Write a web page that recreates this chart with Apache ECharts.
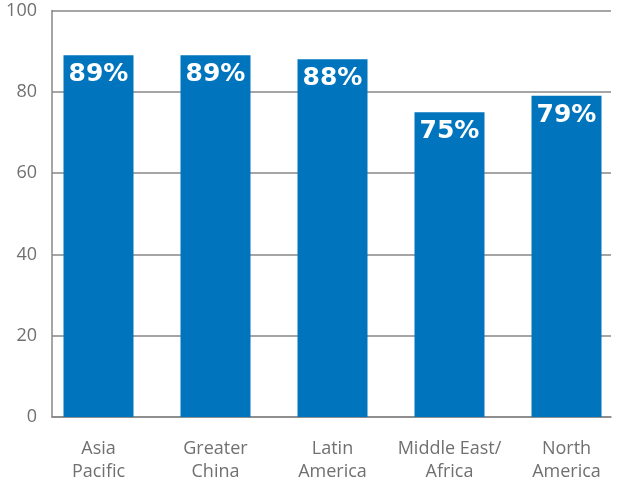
<!DOCTYPE html>
<html>
<head>
<meta charset="utf-8">
<script src="https://cdn.jsdelivr.net/npm/echarts@6/dist/echarts.min.js"></script>
<style>
html,body{margin:0;padding:0;background:#fff;overflow:hidden;}
#chart{width:617px;height:479px;}
</style>
</head>
<body>
<div id="chart"></div>
<script>
var categories = ['Asia\nPacific', 'Greater\nChina', 'Latin\nAmerica', 'Middle East/\nAfrica', 'North\nAmerica'];
var values = [89, 89, 88, 75, 79];
var yTicks = [0, 20, 40, 60, 80, 100];

var chart = echarts.init(document.getElementById('chart'), null, {renderer: 'canvas'});
var gray = '#878787';
var textGray = '#707070';
chart.setOption({
  animation: false,
  backgroundColor: '#fff',
  grid: [
    {left: 52, right: 6, top: 10.5, bottom: 62, outerBoundsMode: 'none', containLabel: false},
    {left: 40, width: 585, top: 10.5, bottom: 62, outerBoundsMode: 'none', containLabel: false}
  ],
  xAxis: [
    {
      gridIndex: 0, type: 'category', data: categories,
      axisLine: {show: true, lineStyle: {color: gray, width: 1.5}},
      axisTick: {show: false}, axisLabel: {show: false}
    },
    {
      gridIndex: 1, type: 'category', data: categories,
      axisLine: {show: false}, axisTick: {show: false},
      axisLabel: {
        show: true, color: textGray, fontSize: 18, lineHeight: 23,
        fontFamily: 'Open Sans', margin: 20, interval: 0
      }
    }
  ],
  yAxis: [
    {
      gridIndex: 0, type: 'value', min: yTicks[0], max: yTicks[yTicks.length - 1], interval: 20,
      axisLine: {show: true, lineStyle: {color: gray, width: 1.5}},
      axisTick: {show: false},
      splitLine: {show: true, lineStyle: {color: gray, width: 1.5}},
      axisLabel: {color: textGray, fontSize: 18, fontFamily: 'Open Sans', margin: 15}
    },
    {
      gridIndex: 1, type: 'value', min: yTicks[0], max: yTicks[yTicks.length - 1],
      show: false, splitLine: {show: false}
    }
  ],
  series: [{
    type: 'bar',
    xAxisIndex: 1, yAxisIndex: 1,
    data: values,
    barWidth: 70,
    itemStyle: {color: '#0075be'},
    label: {
      show: true, position: 'insideTop', distance: 7,
      formatter: '{c}%', color: '#fff', fontSize: 25, fontWeight: 'bold',
      fontFamily: 'DejaVu Sans'
    }
  }]
});
</script>
</body>
</html>
